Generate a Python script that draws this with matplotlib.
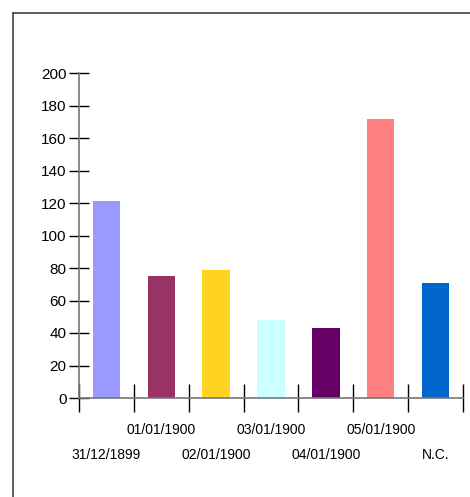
import matplotlib.pyplot as plt
from matplotlib.lines import Line2D
from matplotlib.transforms import ScaledTranslation

# Data
labels = ["31/12/1899", "01/01/1900", "02/01/1900", "03/01/1900",
          "04/01/1900", "05/01/1900", "N.C."]
values = [121, 75, 79, 48, 43, 172, 71]
colors = ["#9999FF", "#993366", "#FFD320", "#CCFFFF",
          "#660066", "#FF8080", "#0066CC"]

plt.rcParams['font.family'] = ['Liberation Sans', 'DejaVu Sans']

W, H = 470, 497
fig = plt.figure(figsize=(W / 100, H / 100), dpi=100)

# outer frame (only top and left edge visible)
fig.add_artist(Line2D([13 / W, 1.0], [1 - 12.5 / H, 1 - 12.5 / H], color="#444444", lw=1.2))
fig.add_artist(Line2D([13 / W, 13 / W], [0.0, 1 - 12.5 / H], color="#444444", lw=1.2))

ax = fig.add_axes([79 / W, 1 - 398 / H, (463 - 79) / W, (398 - 73) / H])

x = list(range(len(labels)))
ax.bar(x, values, width=0.5, color=colors)

ax.set_xlim(-0.5, len(labels) - 0.5)
ax.set_ylim(0, 200)

for s in ["top", "right"]:
    ax.spines[s].set_visible(False)
for s in ["left", "bottom"]:
    ax.spines[s].set_color("#777777")
    ax.spines[s].set_linewidth(1.2)

ax.set_yticks(range(0, 201, 20))
ax.tick_params(axis="y", direction="inout", length=14, width=1, color="black",
               labelsize=11, pad=2)

# category boundaries get the tick marks, labels sit at centres
ax.set_xticks([i - 0.5 for i in range(len(labels) + 1)], minor=True)
ax.tick_params(axis="x", which="minor", direction="inout", length=20, width=1, color="black")
ax.set_xticks(x)
ax.set_xticklabels(labels, fontsize=10)
ax.tick_params(axis="x", which="major", length=0, pad=18)

# stagger: even-index labels drop to a second row
shift = ScaledTranslation(0, -0.25, fig.dpi_scale_trans)
for i, t in enumerate(ax.get_xticklabels()):
    if i % 2 == 0:
        t.set_transform(t.get_transform() + shift)

fig.savefig("out.png", dpi=100)
